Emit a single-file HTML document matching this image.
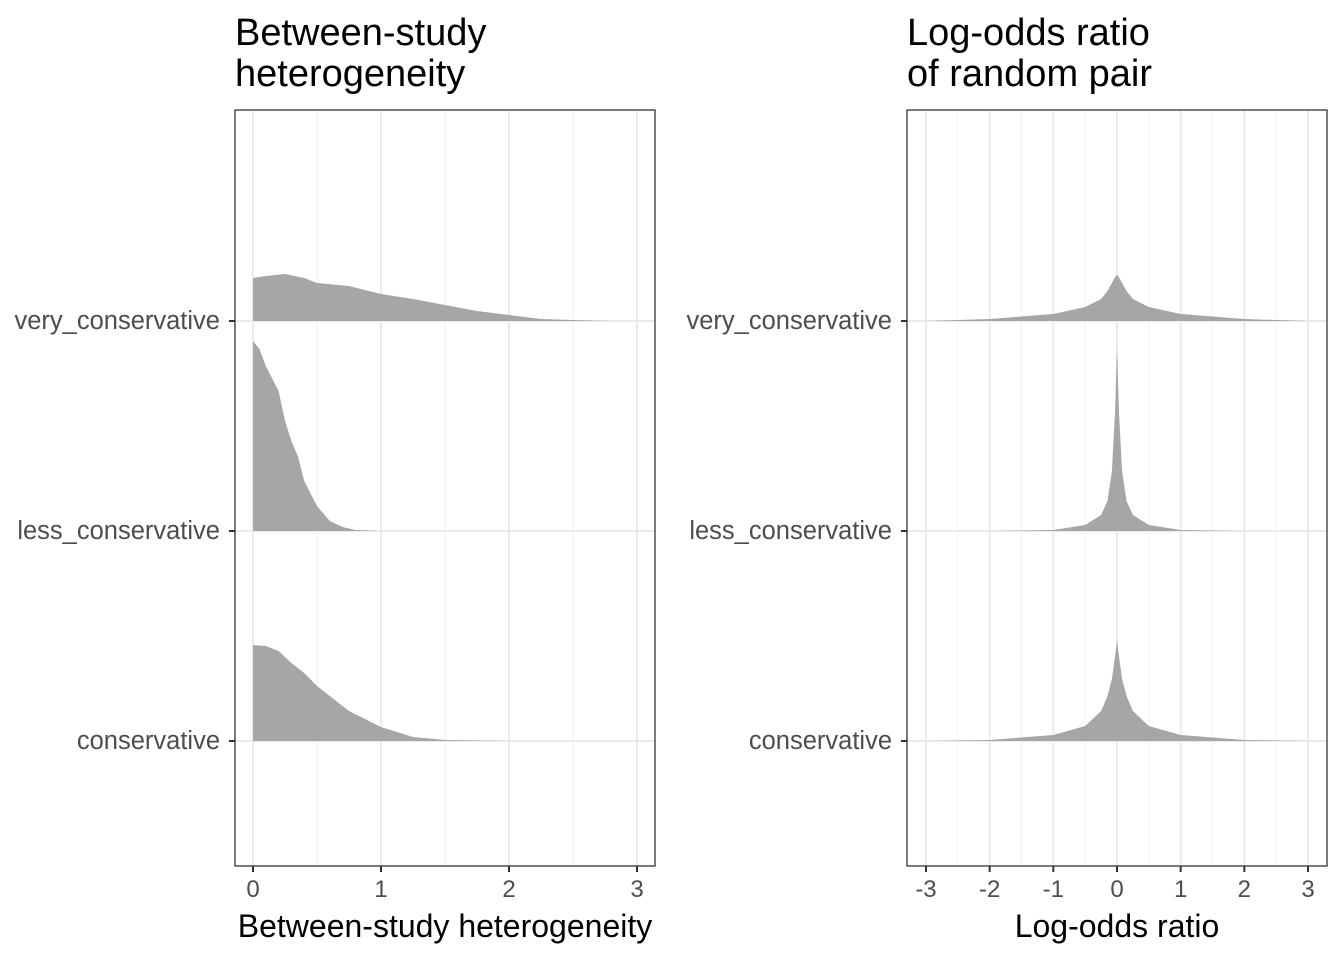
<!DOCTYPE html>
<html><head><meta charset="utf-8"><style>
body{margin:0;background:#fff;}
svg{display:block;font-family:"Liberation Sans",sans-serif;}
</style></head><body>
<svg id="c" width="1344" height="960"></svg>
<script>
const categories=["conservative","less_conservative","very_conservative"];
const xTicksL=[0,1,2,3];
const xTicksR=[-3,-2,-1,0,1,2,3];
const hetX={very_conservative:[0,0.1,0.25,0.4,0.5,0.75,1.0,1.25,1.5,1.75,2.0,2.25,2.5,2.8],
 less_conservative:[0,0.05,0.1,0.2,0.25,0.3,0.35,0.4,0.5,0.6,0.7,0.8,1.0],
 conservative:[0,0.1,0.2,0.3,0.4,0.5,0.75,1.0,1.25,1.5,2.0]};
const hetY={very_conservative:[43,45,47,43,38,35,27,22,16,10,6,2,1,0],
 less_conservative:[190,182,165,140,110,90,75,50,25,10,4,1,0],
 conservative:[96,95,90,78,68,55,30,14,4,1,0]};
const lorX=[-3,-2,-1,-0.5,-0.25,-0.15,-0.08,-0.03,0,0.03,0.08,0.15,0.25,0.5,1,2,3];
const lorY={very_conservative:[0,2,7,14,22,30,38,44,46,44,38,30,22,14,7,2,0],
 less_conservative:[0,0,1,6,16,30,60,120,183,120,60,30,16,6,1,0,0],
 conservative:[0,1,6,15,30,45,62,85,100,85,62,45,30,15,6,1,0]};
const svg=document.getElementById('c');const NS='http://www.w3.org/2000/svg';
function el(t,a,p){const e=document.createElementNS(NS,t);for(const k in a)e.setAttribute(k,a[k]);(p||svg).appendChild(e);return e;}
const yBase={very_conservative:321,less_conservative:531,conservative:741};
function panel(name,x0,x1,sx,ticks,minors,xs,ys,title,xtitle){
 const g=el('g',{});
 minors.forEach(v=>el('line',{x1:sx(v),x2:sx(v),y1:110,y2:866,stroke:'#f2f2f2','stroke-width':1},g));
 ticks.forEach(v=>el('line',{x1:sx(v),x2:sx(v),y1:110,y2:866,stroke:'#ebebeb','stroke-width':2},g));
 categories.forEach(c=>el('line',{x1:x0,x2:x1,y1:yBase[c],y2:yBase[c],stroke:'#ebebeb','stroke-width':2},g));
 ["very_conservative","less_conservative","conservative"].forEach(c=>{
  const X=Array.isArray(xs)?xs:xs[c];const Y=ys[c];
  let d='M'+sx(X[0])+','+yBase[c];
  X.forEach((v,i)=>d+=' L'+sx(v)+','+(yBase[c]-Y[i]));
  d+=' L'+sx(X[X.length-1])+','+yBase[c]+'Z';
  const p=el('path',{d:d,fill:'#a6a6a6'},g);
  const t=el('text',{x:x0-15,y:yBase[c]+8,'text-anchor':'end','font-size':25.5,fill:'#4d4d4d'},g);t.textContent=c;
  el('line',{x1:x0-6,x2:x0,y1:yBase[c],y2:yBase[c],stroke:'#333','stroke-width':2},g);
 });
 el('rect',{x:x0,y:110,width:x1-x0,height:756,fill:'none',stroke:'#333','stroke-width':1.3},g);
 ticks.forEach(v=>{el('line',{x1:sx(v),x2:sx(v),y1:866,y2:872,stroke:'#333','stroke-width':2},g);
  const t=el('text',{x:sx(v),y:897,'text-anchor':'middle','font-size':24,fill:'#4d4d4d'},g);t.textContent=v;});
 const xt=el('text',{x:(x0+x1)/2,y:937,'text-anchor':'middle','font-size':32,fill:'#000'},g);xt.textContent=xtitle;
 title.forEach((s,i)=>{const t=el('text',{x:x0,y:45+i*41,'font-size':38,fill:'#000'},g);t.textContent=s;});
}
panel('left-panel',235,655,v=>253+v*128,xTicksL,[0.5,1.5,2.5],hetX,hetY,['Between-study','heterogeneity'],'Between-study heterogeneity');
panel('right-panel',907,1327,v=>1117+v*63.67,xTicksR,[-2.5,-1.5,-0.5,0.5,1.5,2.5],lorX,lorY,['Log-odds ratio','of random pair'],'Log-odds ratio');
</script>
</body></html>
